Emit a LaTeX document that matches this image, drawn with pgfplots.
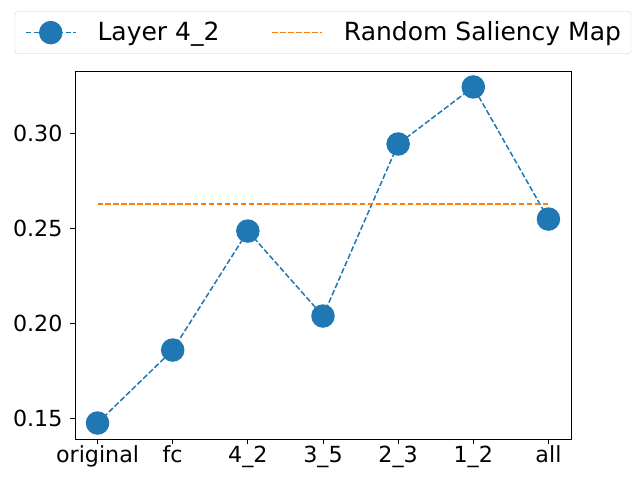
\documentclass[border=0pt]{standalone}
\usepackage{pgfplots}
\pgfplotsset{compat=1.18}
\usepackage{fontspec}
\setmainfont{DejaVu Sans}
\definecolor{tabblue}{HTML}{1F77B4}
\definecolor{taborange}{HTML}{FF7F0E}
\begin{document}
\fontsize{22.2bp}{26bp}\selectfont
\begin{tikzpicture}
\useasboundingbox (-75bp,-45bp) rectangle (563bp,439bp);
\begin{axis}[
  at={(0,0)}, anchor=south west,
  scale only axis, width=496bp, height=368bp,
  xmin=-0.3, xmax=6.3, ymin=0.139, ymax=0.3326,
  xtick={0,1,2,3,4,5,6},
  xticklabels={original,fc,4\_2,3\_5,2\_3,1\_2,all},
  ytick={0.15,0.20,0.25,0.30},
  yticklabel style={/pgf/number format/.cd,fixed,fixed zerofill,precision=2},
  /pgf/number format/assume math mode=true,
  tick label style={font=\fontsize{22.2bp}{26bp}\selectfont},
  xticklabel style={inner sep=2bp},
  tick align=outside, tick pos=left,
  major tick length=4.9bp,
  axis line style={line width=0.8bp},
  every tick/.style={line width=0.8bp, black},
  legend columns=2,
  legend style={at={(0.5,1)}, anchor=south, yshift=17bp,
    font=\fontsize{25bp}{30bp}\selectfont, draw=black!20, rounded corners=3bp,
    inner xsep=10bp, inner ysep=10bp,
    nodes={inner sep=0pt},
    /tikz/every odd column/.append style={column sep=21bp},
    /tikz/every even column/.append style={column sep=52bp}},
  legend cell align=left,
  legend image code/.code={
    \draw[mark repeat=2,mark phase=2,#1] plot coordinates {(0bp,0bp) (25bp,0bp) (50bp,0bp)};
  },
]
\addplot[tabblue, line width=1.5bp, dash pattern=on 5.55bp off 2.4bp,
  mark=*, mark size=11bp, mark options={solid, fill=tabblue, draw=tabblue}]
  coordinates {(0,0.1474) (1,0.1858) (2,0.2484) (3,0.2037) (4,0.2942) (5,0.3242) (6,0.2547)};
\addlegendentry{Layer 4\_2}
\addplot[taborange, line width=1.5bp, dash pattern=on 5.55bp off 2.4bp, no marks]
  coordinates {(0,0.2626) (6,0.2626)};
\addlegendentry{Random Saliency Map}
\end{axis}
\end{tikzpicture}
\end{document}
